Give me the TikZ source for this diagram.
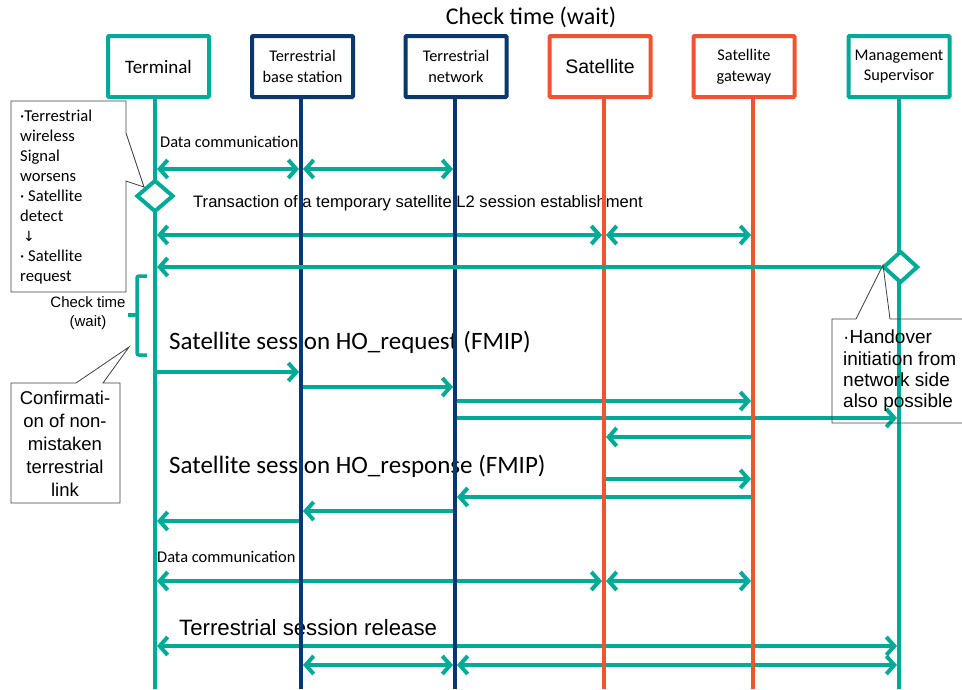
\documentclass[tikz,border=0pt]{standalone}
\usepackage{fontspec}
\setmainfont{Carlito}
\newfontfamily\arialf{Liberation Sans}
\newfontfamily\dejavuf{DejaVu Sans}
\usetikzlibrary{arrows.meta,shapes.geometric}
\definecolor{tl}{RGB}{0,170,150}
\definecolor{nv}{RGB}{10,55,110}
\definecolor{og}{RGB}{238,84,48}
\newcommand{\myfs}[2]{\fontsize{#1}{#2}\selectfont}
\tikzset{
  tipa/.tip={Straight Barb[length=8pt,width=18pt]},
  msg/.style={draw=tl, line width=4pt, shorten >=2pt, shorten <=2pt, -tipa},
  both/.style={msg, tipa-tipa},
  life/.style={line width=4pt},
  hbox/.style={draw, line width=4pt, fill=white, minimum width=101pt, minimum height=61pt,
    inner sep=2pt, align=center, rounded corners=1pt, font=\myfs{16.3}{20.5}},
  dia/.style={diamond, draw=tl, line width=4pt, fill=white, inner sep=0pt, minimum width=37pt, minimum height=32pt},
  call/.style={draw=black!75, line width=0.8pt},
  lbl/.style={inner sep=0pt, anchor=west},
}
\begin{document}
\begin{tikzpicture}[x=1pt,y=-1pt]
\useasboundingbox (0,0) rectangle (962,689);
% lifeline anchors
\coordinate (T) at (155,99);
\coordinate (B) at (301,99);
\coordinate (N) at (455,99);
\coordinate (S) at (604,99);
\coordinate (G) at (753,99);
\coordinate (M) at (899,99);
\coordinate (bot) at (0,689);
% message rows
\coordinate (r1) at (0,169);
\coordinate (r2) at (0,235);
\coordinate (r4) at (0,372);
\coordinate (r5) at (0,387);
\coordinate (r6) at (0,401);
\coordinate (r7) at (0,418);
\coordinate (r8) at (0,437);
\coordinate (r9) at (0,479);
\coordinate (r10) at (0,497);
\coordinate (r11) at (0,511);
\coordinate (r12) at (0,521);
\coordinate (r13) at (0,581);
\coordinate (r14) at (0,646);
\coordinate (r15) at (0,665);

% labels (under lifelines)
\node[font=\myfs{24}{28}] (title) at (531,17) {Check time (wait)};
\node[lbl, font=\myfs{16.4}{19}] (dc1) at (160,142) {Data communication};
\node[lbl, font=\arialf\myfs{16.6}{19}] (tr) at (193,203) {Transaction of a temporary satellite L2 session establishment};
\node[lbl, font=\myfs{25}{29}] (hoq) at (169,342) {Satellite session HO\_request (FMIP)};
\node[lbl, font=\myfs{25}{29}] (hos) at (169,466) {Satellite session HO\_response (FMIP)};
\node[lbl, font=\myfs{16.4}{19}] (dc2) at (157,557) {Data communication};
\node[lbl, font=\arialf\myfs{22.2}{26}] (rel) at (179,628) {Terrestrial session release};

% messages
\draw[both] (T |- r1) -- (B |- r1);
\draw[both] (B |- r1) -- (N |- r1);
\draw[both] (T |- r2) -- (S |- r2);
\draw[both] (S |- r2) -- (G |- r2);
\draw[msg] (T |- r4) -- (B |- r4);
\draw[msg] (B |- r5) -- (N |- r5);
\draw[msg] (N |- r6) -- (G |- r6);
\draw[msg] (N |- r7) -- (M |- r7);
\draw[msg] (G |- r8) -- (S |- r8);
\draw[msg] (S |- r9) -- (G |- r9);
\draw[msg] (G |- r10) -- (N |- r10);
\draw[msg] (N |- r11) -- (B |- r11);
\draw[msg] (B |- r12) -- (T |- r12);
\draw[both] (T |- r13) -- (S |- r13);
\draw[both] (S |- r13) -- (G |- r13);
\draw[both] (T |- r14) -- (M |- r14);
\draw[both] (B |- r15) -- (N |- r15);
\draw[both] (N |- r15) -- (M |- r15);

% lifelines
\draw[life, tl] (T) -- (T |- bot);
\draw[life, nv] (B) -- (B |- bot);
\draw[life, nv] (N) -- (N |- bot);
\draw[life, og] (S) -- (S |- bot);
\draw[life, og] (G) -- (G |- bot);
\draw[life, tl] (M) -- (M |- bot);

% headers
\node[hbox, draw=tl, font=\myfs{19}{22}] (hT) at (158.5,66.5) {Terminal};
\node[hbox, draw=nv] (hB) at (302.5,66.5) {Terrestrial\\base station};
\node[hbox, draw=nv] (hN) at (456,66.5) {Terrestrial\\network};
\node[hbox, draw=og, font=\arialf\myfs{19.5}{22}] (hS) at (600,66.5) {Satellite};
\node[hbox, draw=og] (hG) at (744,66.5) {Satellite\\gateway};
\node[hbox, draw=tl] (hM) at (899,66.5) {Management\\Supervisor};

% diamonds
\node[dia] (dT) at (155,196) {};
\node[dia, minimum width=35pt] (dM) at (900.5,267) {};
\draw[msg, shorten <=0pt] (dM.west) -- (T |- dM.west);

% bracket
\draw[tl, line width=3.5pt, rounded corners=2pt] (147,276) -- (137,276) -- (137,355) -- (147,355);
\draw[tl, line width=3.5pt] (137,315) -- (128,315);
\node[font=\arialf\myfs{15}{19}, align=center, inner sep=0pt] (ct) at (88,313) {Check time\\(wait)};

% callout 1
\draw[call] (11,101) -- (126,101) -- (126,133) -- (144,187) -- (126,181) -- (126,292) -- (11,292) -- cycle;
\node[anchor=north west, align=left, inner sep=0pt, font=\myfs{16.6}{20}] (c1) at (20,110)
  {·Terrestrial\\wireless\\Signal\\worsens\\· Satellite\\detect\\\hspace*{3pt}{\dejavuf\myfs{14}{20}↓}\\· Satellite\\request};

% callout 2
\draw[call] (11,383) -- (76,383) -- (129,347) -- (103,383) -- (120,383) -- (120,503) -- (11,503) -- cycle;
\node[align=center, inner sep=0pt, font=\arialf\myfs{18.5}{23}] (c2) at (65,444)
  {Confirmati-\\on of non-\\mistaken\\terrestrial\\link};

% callout 3
\draw[call] (966,319) -- (890,319) -- (883,265) -- (856,319) -- (832,319) -- (832,423) -- (966,423);
\node[anchor=north west, align=left, inner sep=0pt, font=\arialf\myfs{19}{21.3}] (c3) at (843,330)
  {·Handover\\initiation from\\network side\\also possible};
\end{tikzpicture}
\end{document}
